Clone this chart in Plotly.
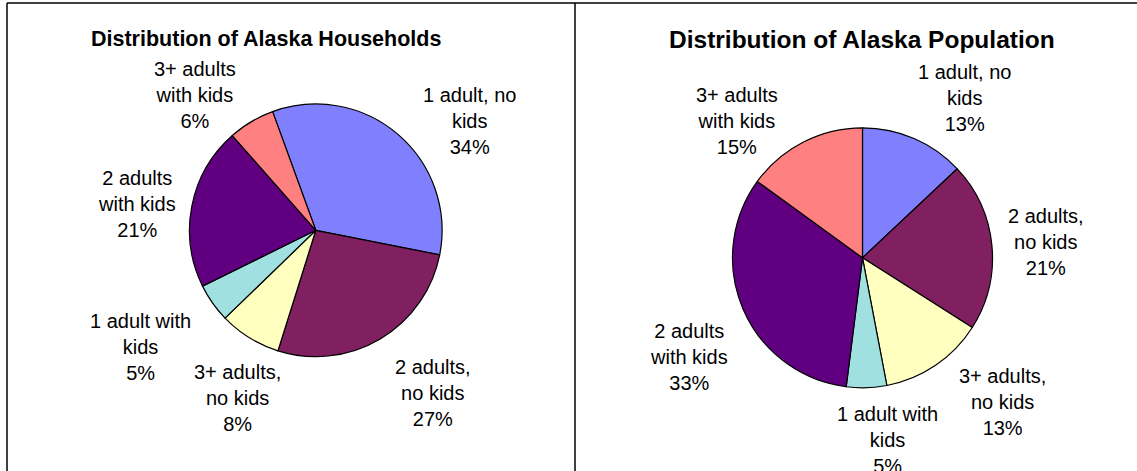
import plotly.graph_objects as go

# ---- data ----
categories = ["1 adult, no kids", "2 adults, no kids", "3+ adults, no kids",
              "1 adult with kids", "2 adults with kids", "3+ adults with kids"]
label_text = ["1 adult, no<br>kids", "2 adults,<br>no kids", "3+ adults,<br>no kids",
              "1 adult with<br>kids", "2 adults<br>with kids", "3+ adults<br>with kids"]
households_pct = [34, 27, 8, 5, 21, 6]
population_pct = [13, 21, 13, 5, 33, 15]
titles = ["Distribution of Alaska Households", "Distribution of Alaska Population"]

# ---- styles / layout ----
colors = ["#8080FF", "#802060", "#FFFFC0", "#A0E0E0", "#600080", "#FF8080"]
W, H = 1137, 471
FONT = "Liberation Sans, Arial, sans-serif"

def px(x):
    return x / W

def py(y):
    return 1 - y / H

# pie placement (center px, radius px, rotation)
pies = [
    dict(values=households_pct, cx=315.8, cy=230.3, r=126.3, rot=-20),
    dict(values=population_pct, cx=862.5, cy=257.8, r=130.0, rot=0),
]
# label centres (pixels) for each pie
label_pos = [
    [(469, 121), (433, 393), (237, 398), (140, 347), (137, 204), (195, 95)],
    [(964, 98), (1046, 242), (1002, 402), (887, 440), (689, 357), (737, 121)],
]

fig = go.Figure()
annotations = []
for i, p in enumerate(pies):
    fig.add_trace(go.Pie(
        labels=categories, values=p["values"], sort=False, direction="clockwise",
        rotation=p["rot"], textinfo="none", hoverinfo="skip",
        marker=dict(colors=colors, line=dict(color="black", width=1.2)),
        domain=dict(x=[px(p["cx"] - p["r"]), px(p["cx"] + p["r"])],
                    y=[py(p["cy"] + p["r"]), py(p["cy"] - p["r"])]),
        showlegend=False,
    ))
    for lbl, v, (lx, ly) in zip(label_text, p["values"], label_pos[i]):
        annotations.append(dict(
            x=px(lx), y=py(ly), xref="paper", yref="paper",
            text=f"{lbl}<br>{v}%", showarrow=False, align="center",
            xanchor="center", yanchor="middle",
            font=dict(family=FONT, size=20, color="black"),
        ))

annotations.append(dict(x=px(89), y=py(39), xref="paper", yref="paper",
                        text=f"<b>{titles[0]}</b>", showarrow=False,
                        xanchor="left", yanchor="middle",
                        font=dict(family=FONT, size=21.5, color="black")))
annotations.append(dict(x=px(1057), y=py(40), xref="paper", yref="paper",
                        text=f"<b>{titles[1]}</b>", showarrow=False,
                        xanchor="right", yanchor="middle",
                        font=dict(family=FONT, size=24.5, color="black")))

shapes = [
    dict(type="line", xref="paper", yref="paper", x0=px(7), x1=1, y0=py(3), y1=py(3),
         line=dict(color="black", width=1.5)),
    dict(type="line", xref="paper", yref="paper", x0=px(7), x1=px(7), y0=py(3), y1=0,
         line=dict(color="black", width=1.5)),
    dict(type="line", xref="paper", yref="paper", x0=px(575), x1=px(575), y0=py(3), y1=0,
         line=dict(color="black", width=1.5)),
]

fig.update_layout(
    width=W, height=H, autosize=False,
    margin=dict(l=0, r=0, t=0, b=0),
    paper_bgcolor="white", plot_bgcolor="white",
    annotations=annotations, shapes=shapes,
)

fig.write_html("out.html",
               config={"displayModeBar": False},
               post_script="document.body.style.margin='0';document.body.style.overflow='hidden';")
